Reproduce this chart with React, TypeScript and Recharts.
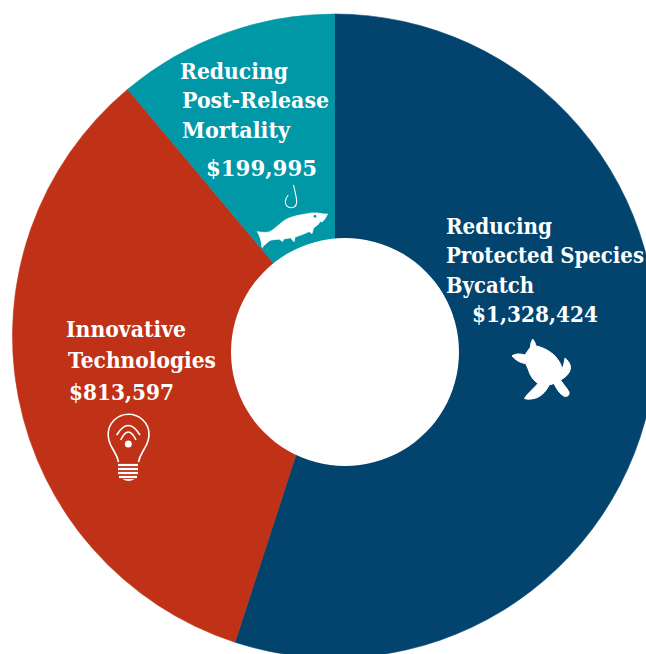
import React from "react";
import { PieChart, Pie, Cell } from "recharts";

// Slice shares as drawn in the picture (percent of the full circle)
const categories = ["Reducing Protected Species Bycatch", "Innovative Technologies", "Reducing Post-Release Mortality"];
const drawnShares = [55, 33.9, 11.1];
const fundingLabels = ["$1,328,424", "$813,597", "$199,995"];
const colors = ["#03446F", "#BF3218", "#0097A6"];
const holeValues = [1];

const slices = categories.map((name, i) => ({ name, value: drawnShares[i] }));
const hole = holeValues.map((value) => ({ name: "hole", value }));

const FONT = "'DejaVu Serif', serif";

type L = { t: string; x: number; y: number; w: number };
const textLines: L[] = [
  { t: "Reducing", x: 446, y: 234, w: 106 },
  { t: "Protected Species", x: 446, y: 263, w: 198 },
  { t: "Bycatch", x: 446, y: 293, w: 88 },
  { t: fundingLabels[0], x: 472, y: 322, w: 126 },
  { t: "Innovative", x: 66, y: 337, w: 120 },
  { t: "Technologies", x: 68, y: 368, w: 148 },
  { t: fundingLabels[1], x: 69, y: 400, w: 105 },
  { t: "Reducing", x: 180, y: 79, w: 108 },
  { t: "Post-Release", x: 182, y: 108, w: 147 },
  { t: "Mortality", x: 182, y: 138, w: 108 },
  { t: fundingLabels[2], x: 206, y: 176, w: 111 },
];

const turtle =
  "M532.7 339 C534.5 341 535.5 344 536 346 C540 346.5 544 348.5 547 350 C552 353 555 355.5 557 358.5 C560 362 561.5 366 562 369 C563.5 366 564.5 362 565 358 C568 360.5 570.5 364 570.5 367.5 C570.5 372 566.5 377 560.5 380 C563 384 567 388 569 392 C569.5 395 568 396.5 565 396.5 C561 395 557.5 391 554 383.5 L549 385 C547 390 542 396 536 398 C531 399.5 527 399.5 524.5 398.5 C527 394 533 389 538 383.5 C534 381 530 375.5 528.5 370 C527.5 367.5 526.5 365 525.5 363.5 C520 363 515 359.5 512 356 C515 353.5 520 353.5 525 355 C527 352 528.5 350 530.5 347 C530.5 344 531.5 341 532.7 339 Z";
const fish =
  "M257.3 231.7 C262 232.5 267 232.8 270 231.7 L274 229 C278 225.5 281.5 222.5 285 220 C290 217 297 215.5 303 214.5 C309 213.2 313 212.7 317 213 C321 213.5 324 214.3 327.5 214 C326 217 324.5 220 322 222 L320 221.3 C319.5 223 318 225 316 226.2 L313.5 228 L312 233.5 L309 231.5 C305 233.5 300 235.5 295 237 L294 241.7 L290.5 237.8 C288 238.3 286 238.6 284 238.8 L282.5 241.5 L279.5 239.2 C277 239.2 274 239.5 271 240 C268 241.5 265.5 244 262 247.5 C261.5 241 260 236 257.3 231.7 Z";
const hook = "M293.5 185 C294.5 190 296.5 196 296.7 201.7 C296.5 205.5 294 207.7 291 207.7 C287.5 207.7 285.2 205 285.3 201.7 C285.4 199 286.5 197 288.3 195";
const bulbOutline =
  "M118.5 462 C117.5 456 115 453 112.5 448.5 C110 444.5 108.2 439 108.2 434 C108.2 423 117.5 414.2 128.5 414.2 C139.5 414.2 149 423 149 434 C149 439 147 444.5 144.5 448.5 C142 453 139.5 456 138.5 462";
const arcOuter = "M116.7 435 Q128.3 416 140 435";
const arcInner = "M120.7 440 Q128.3 424 136 440";
const bulbBars = [
  { x1: 118, x2: 138, y: 465 },
  { x1: 118, x2: 138, y: 469 },
  { x1: 118, x2: 138, y: 473 },
  { x1: 119, x2: 137, y: 477 },
];

export default function App() {
  return (
    <div style={{ position: "absolute", left: 0, top: 0, width: 646, height: 654, overflow: "hidden", background: "#fff" }}>
      <PieChart width={646} height={654} margin={{ top: 0, right: 0, bottom: 0, left: 0 }}>
        <Pie
          data={slices}
          dataKey="value"
          cx={334.5}
          cy={336}
          innerRadius={0}
          outerRadius={322}
          startAngle={90}
          endAngle={-270}
          stroke="none"
          label={false}
          labelLine={false}
          isAnimationActive={false}
        >
          {slices.map((s, i) => (
            <Cell key={s.name} fill={colors[i]} stroke={colors[i]} strokeWidth={0.6} />
          ))}
        </Pie>
        <Pie
          data={hole}
          dataKey="value"
          cx={345}
          cy={352}
          innerRadius={0}
          outerRadius={114}
          startAngle={90}
          endAngle={-270}
          fill="#ffffff"
          stroke="none"
          label={false}
          labelLine={false}
          isAnimationActive={false}
        />
      </PieChart>
      <svg width={646} height={654} style={{ position: "absolute", left: 0, top: 0, pointerEvents: "none" }}>
        {textLines.map((l) => (
          <text
            key={l.t + l.x}
            x={l.x}
            y={l.y}
            textLength={l.w}
            lengthAdjust="spacingAndGlyphs"
            fill="#fff"
            fontFamily={FONT}
            fontWeight={700}
            fontSize={22}
          >
            {l.t}
          </text>
        ))}
        <path d={turtle} fill="#fff" stroke="#fff" strokeWidth={1} strokeLinejoin="round" />
        <path d={fish} fill="#fff" stroke="#fff" strokeWidth={0.8} strokeLinejoin="round" />
        <circle cx={315} cy={216.3} r={1.4} fill={colors[2]} />
        <path d={hook} fill="none" stroke="#fff" strokeWidth={1.1} />
        <path d={bulbOutline} fill="none" stroke="#fff" strokeWidth={1.6} />
        <path d={arcOuter} fill="none" stroke="#fff" strokeWidth={1.6} />
        <path d={arcInner} fill="none" stroke="#fff" strokeWidth={1.6} />
        <circle cx={128.3} cy={444} r={3.5} fill="#fff" />
        {bulbBars.map((b) => (
          <line key={b.y} x1={b.x1} x2={b.x2} y1={b.y} y2={b.y} stroke="#fff" strokeWidth={2.2} />
        ))}
        <path d="M122.5 479 L134.5 479 Q128.5 483 122.5 479 Z" fill="#fff" />
      </svg>
    </div>
  );
}
